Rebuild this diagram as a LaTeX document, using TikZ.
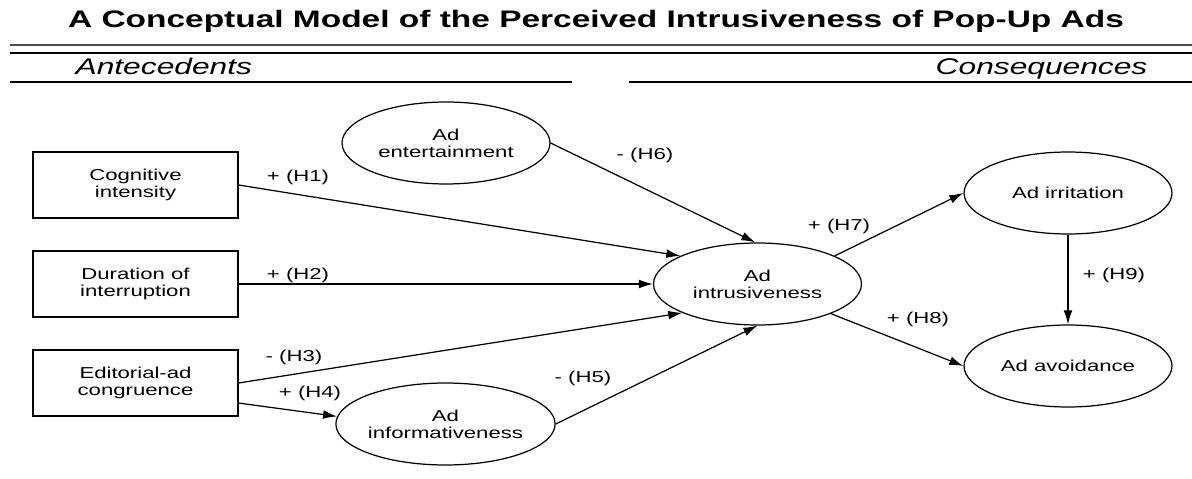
\documentclass[tikz,border=0pt]{standalone}
\usepackage{fontspec}
\setmainfont{Liberation Sans}[FakeStretch=1.4]
\usepackage{tikz}
\usetikzlibrary{arrows.meta}
\usetikzlibrary{shapes.geometric}
\usetikzlibrary{positioning}
\tikzstyle{factor}=[draw,rectangle,minimum width=4.1cm,minimum height=1.32cm,inner sep=1pt,align=center,font=\fontsize{9}{9.6}\selectfont]
\tikzstyle{construct}=[draw,ellipse,minimum width=4.16cm,minimum height=1.64cm,inner sep=0pt,align=center,font=\fontsize{9}{9.6}\selectfont]
\tikzstyle{hyp}=[inner sep=1pt,font=\fontsize{9}{9.6}\selectfont]
\tikzstyle{link}=[->,>={Latex[length=8pt,width=5pt]},line width=0.7pt]

\begin{document}
\begin{tikzpicture}[x=0.02cm,y=-0.02cm,line width=0.7pt]
\useasboundingbox (0,0) rectangle (1192,479);
% title and headers
\node[anchor=base,inner sep=0pt,font=\bfseries\fontsize{13.6}{15}\selectfont] (title) at (596,28)
  {A Conceptual Model of the Perceived Intrusiveness of Pop-Up Ads};
\draw[line width=1.2pt,black!70] (10,45) -- (1192,45);
\draw[line width=0.9pt] (10,53) -- (1192,53);
\node[anchor=base west,inner sep=0pt,font=\itshape\fontsize{12.9}{14}\selectfont] (ante) at (75,75) {Antecedents};
\node[anchor=base east,inner sep=0pt,font=\itshape\fontsize{12.9}{14}\selectfont] (cons) at (1148,75) {Consequences};
\draw[line width=0.8pt] (10,82) -- (572,82);
\draw[line width=0.8pt] (629,82) -- (1192,82);

% antecedents
\node [factor] (cog) at (135.5,185) {Cognitive\\intensity};
\node [factor] (dur) at (135.5,284) {Duration of\\interruption};
\node [factor] (edit) at (135.5,383) {Editorial-ad\\congruence};

% constructs
\node [construct] (ent) at (446,143) {Ad\\entertainment};
\node [construct] (info) at (445.5,424) {Ad\\informativeness};
\node [construct] (intr) at (757.5,284) {Ad\\intrusiveness};
\node [construct] (irr) at (1068,193) {Ad irritation};
\node [construct] (avoid) at (1068,366) {Ad avoidance};

% hypotheses
\draw[link] (cog.east) -- (intr.160);
\draw[link] (dur.east) -- (intr.west);
\draw[link] (edit.east) -- (intr.201);
\draw[link] (edit.-11) -- (info.176);
\draw[link] (info.east) -- (intr.south);
\draw[link] (ent.east) -- (intr.93);
\draw[link] (intr.20) -- (irr.west);
\draw[link] (intr.-22) -- (avoid.west);
\draw[link] (irr.south) -- (avoid.north);

\node[hyp] (h1) at (298,177) {+ (H1)};
\node[hyp] (h2) at (298,275) {+ (H2)};
\node[hyp] (h3) at (294,357) {- (H3)};
\node[hyp] (h4) at (310,393) {+ (H4)};
\node[hyp] (h5) at (583,378) {- (H5)};
\node[hyp] (h6) at (645,155) {- (H6)};
\node[hyp] (h7) at (839,226) {+ (H7)};
\node[hyp] (h8) at (918,319) {+ (H8)};
\node[hyp] (h9) at (1114,275) {+ (H9)};
\end{tikzpicture}
\end{document}
